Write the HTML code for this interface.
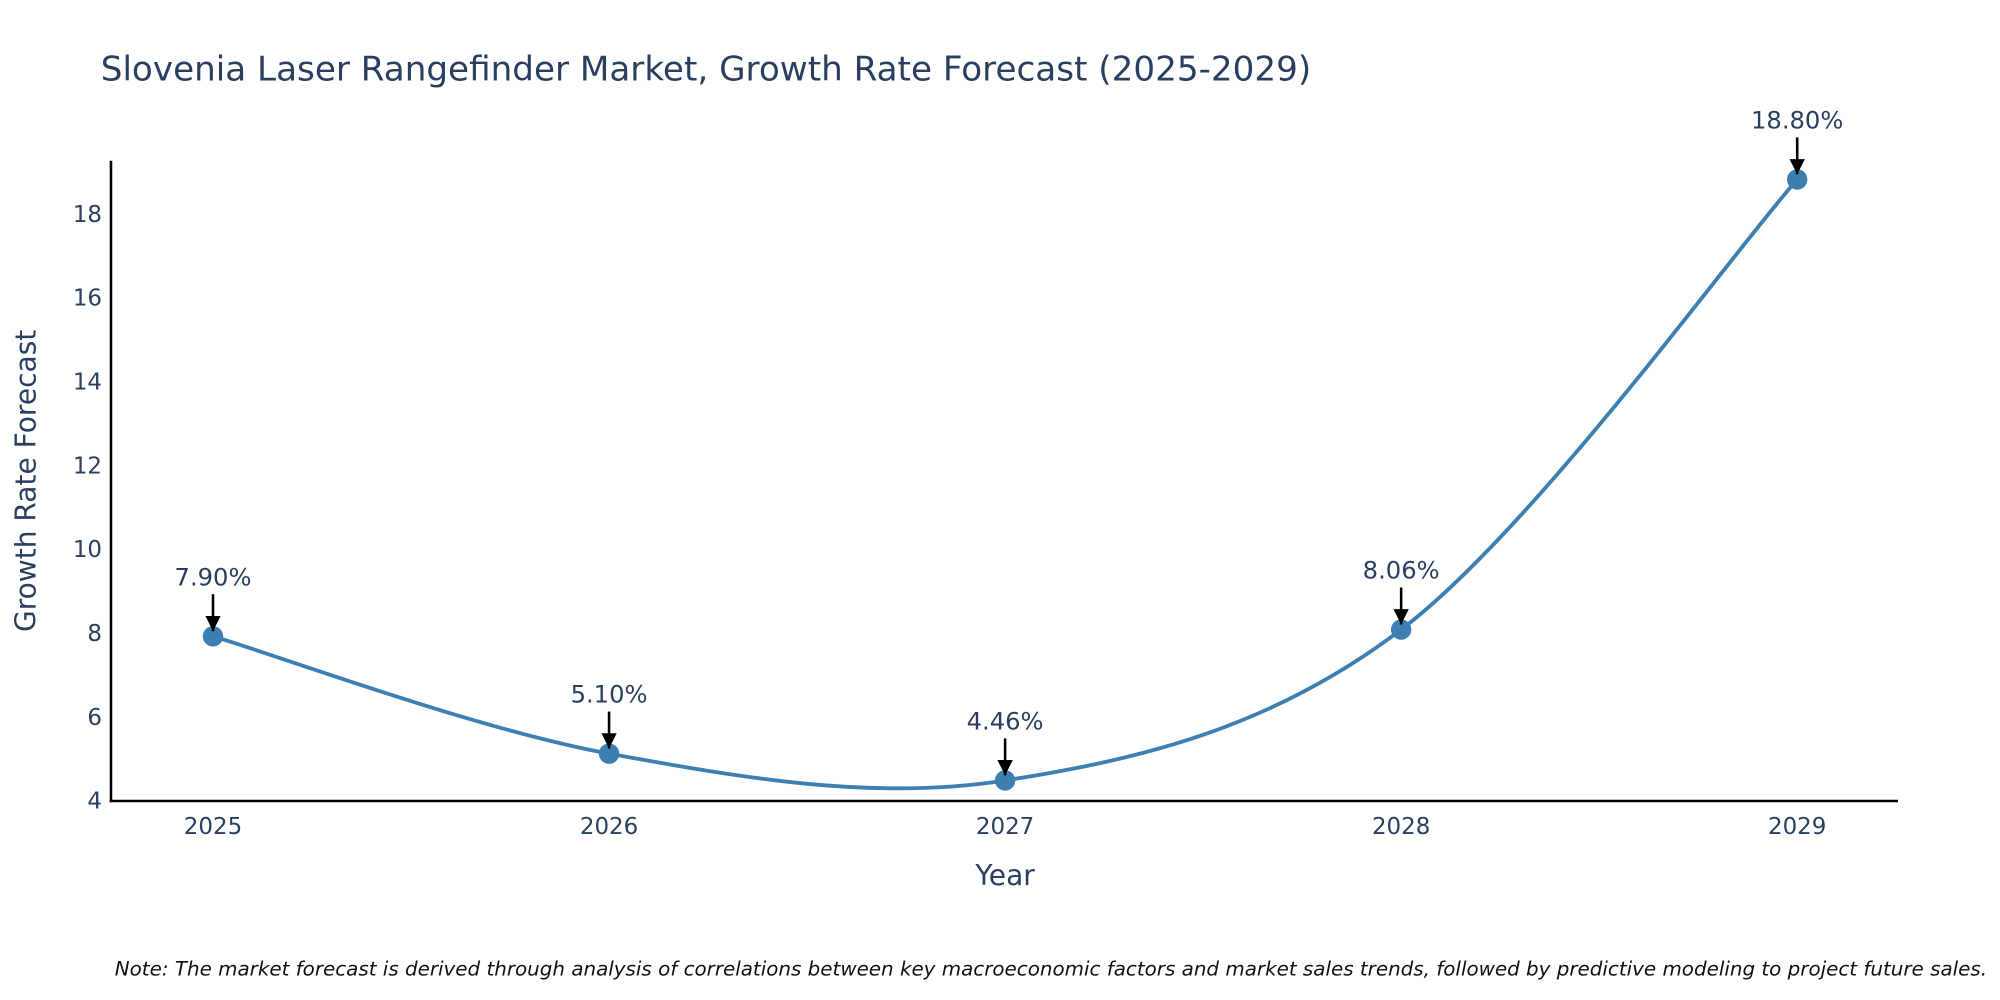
<!DOCTYPE html>
<html><head><meta charset="utf-8"><style>
html,body{margin:0;padding:0;background:#fff;width:2000px;height:1000px;overflow:hidden}
svg text{font-family:"DejaVu Sans","Liberation Sans",sans-serif}
</style></head><body>
<svg id="chart" width="2000" height="1000" viewBox="0 0 1568 784" xmlns="http://www.w3.org/2000/svg">
<defs><marker id="ah" viewBox="0 0 10 10" refX="10" refY="5" markerWidth="6" markerHeight="6" orient="auto"><path d="M0,0L10,5L0,10z" fill="#000"/></marker></defs>
<text x="79" y="63" font-size="26.8" fill="#2a3f5f">Slovenia Laser Rangefinder Market, Growth Rate Forecast (2025-2029)</text>
<g id="yticks"></g><g id="xticks"></g>
<line x1="87" y1="126" x2="87" y2="629" stroke="#000" stroke-width="2"/>
<line x1="86" y1="628" x2="1488" y2="628" stroke="#000" stroke-width="2"/>
<text transform="translate(28,377) rotate(-90)" text-anchor="middle" font-size="22" fill="#2a3f5f">Growth Rate Forecast</text>
<text x="788" y="694" text-anchor="middle" font-size="22" fill="#2a3f5f">Year</text>
<g id="series"></g>
<text x="90" y="765" font-size="15.6" font-style="italic" fill="#111">Note: The market forecast is derived through analysis of correlations between key macroeconomic factors and market sales trends, followed by predictive modeling to project future sales.</text>
</svg>
<script>
const years=[2025,2026,2027,2028,2029];
const values=[7.90,5.10,4.46,8.06,18.80];
const labels=["7.90%","5.10%","4.46%","8.06%","18.80%"];
const yTicks=[4,6,8,10,12,14,16,18];
const NS="http://www.w3.org/2000/svg";
const X=v=>167+(v-2025)*310.5;
const Y=v=>627-(v-4)*32.857;
function mk(t,a,p){const e=document.createElementNS(NS,t);for(const k in a)e.setAttribute(k,a[k]);p.appendChild(e);return e;}
const yt=document.getElementById('yticks');
yTicks.forEach(v=>{const t=mk('text',{x:80,y:Y(v)+7,'text-anchor':'end','font-size':18,fill:'#2a3f5f'},yt);


t.textContent=v;});
const xt=document.getElementById('xticks');
years.forEach(v=>{const t=mk('text',{x:X(v),y:654,'text-anchor':'middle','font-size':18,fill:'#2a3f5f'},xt);


t.textContent=v;});
const s=document.getElementById('series');
const P=years.map((y,i)=>[X(y),Y(values[i])]);
let d='M'+P[0][0]+','+P[0][1];
for(let i=0;i<P.length-1;i++){const p0=P[Math.max(0,i-1)],p1=P[i],p2=P[i+1],p3=P[Math.min(P.length-1,i+2)];
const k=1/6;
d+=' C'+(p1[0]+(p2[0]-p0[0])*k)+','+(p1[1]+(p2[1]-p0[1])*k)+' '+(p2[0]-(p3[0]-p1[0])*k)+','+(p2[1]-(p3[1]-p1[1])*k)+' '+p2[0]+','+p2[1];}
const line=mk('path',{d:d,fill:'none',stroke:'#3d7fb0','stroke-width':3},s);


P.forEach((p,i)=>{const c=mk('circle',{cx:p[0],cy:p[1],r:8,fill:'#3d7fb0'},s);


const a=mk('line',{x1:p[0],y1:p[1]-33,x2:p[0],y2:p[1]-4,stroke:'#000','stroke-width':2,'marker-end':'url(#ah)'},s);


const t=mk('text',{x:p[0],y:p[1]-40,'text-anchor':'middle','font-size':19,fill:'#2a3f5f'},s);


t.textContent=labels[i];});
</script>
</body></html>
